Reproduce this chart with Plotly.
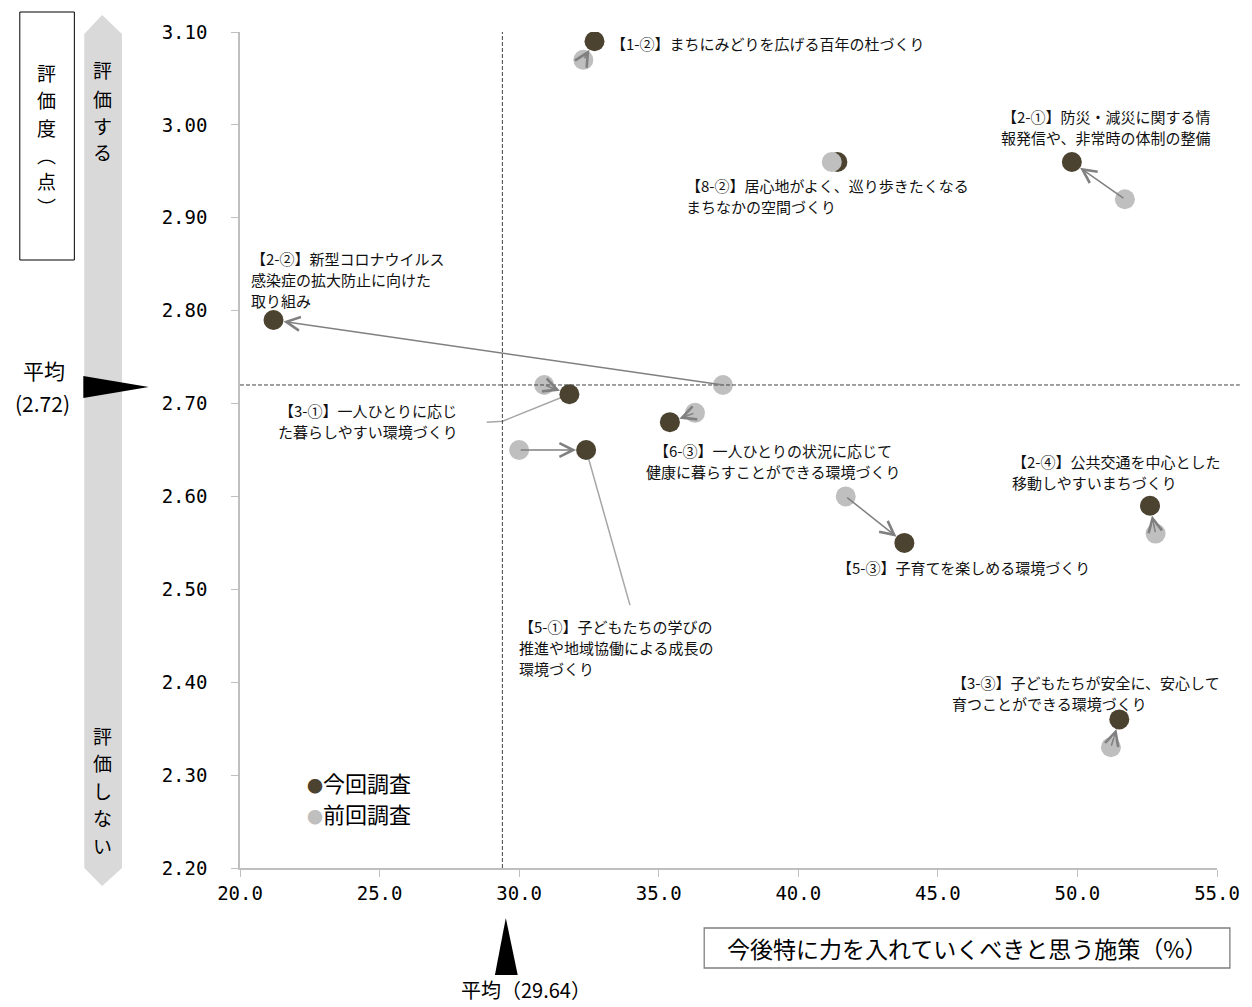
import plotly.graph_objects as go

# 施策ごとの値（今回調査・前回調査）
labels = [
    "【1-②】まちにみどりを広げる百年の杜づくり",
    "【2-①】防災・減災に関する情<br>報発信や、非常時の体制の整備",
    "【8-②】居心地がよく、巡り歩きたくなる<br>まちなかの空間づくり",
    "【2-②】新型コロナウイルス<br>感染症の拡大防止に向けた<br>取り組み",
    "【3-①】一人ひとりに応じ<br>た暮らしやすい環境づくり",
    "【6-③】一人ひとりの状況に応じて<br>健康に暮らすことができる環境づくり",
    "【5-①】子どもたちの学びの<br>推進や地域協働による成長の<br>環境づくり",
    "【5-③】子育てを楽しめる環境づくり",
    "【2-④】公共交通を中心とした<br>移動しやすいまちづくり",
    "【3-③】子どもたちが安全に、安心して<br>育つことができる環境づくり",
]
cur_x = [32.7, 49.8, 41.4, 21.2, 31.8, 35.4, 32.4, 43.8, 52.6, 51.5]
cur_y = [3.09, 2.96, 2.96, 2.79, 2.71, 2.68, 2.65, 2.55, 2.59, 2.36]
prev_x = [32.3, 51.7, 41.2, 37.3, 30.9, 36.3, 30.0, 41.7, 52.8, 51.2]
prev_y = [3.07, 2.92, 2.96, 2.72, 2.72, 2.69, 2.65, 2.60, 2.56, 2.33]

avg_x = 29.64
avg_y = 2.72
avg_x_drawn = 29.4   # 元図の破線はこの位置に引かれている

x_ticks = [20, 25, 30, 35, 40, 45, 50, 55]
y_ticks = [2.2, 2.3, 2.4, 2.5, 2.6, 2.7, 2.8, 2.9, 3.0, 3.1]

# ラベルの置き場所 (x, y, xanchor)
label_pos = [
    (33.22, 3.088, "left"),
    (51.04, 2.998, "center"),
    (35.92, 2.923, "left"),
    (20.33, 2.834, "left"),
    (24.60, 2.681, "center"),
    (39.08, 2.638, "center"),
    (29.93, 2.437, "left"),
    (45.92, 2.523, "center"),
    (47.59, 2.626, "left"),
    (45.42, 2.388, "left"),
]
LINE_H = 21

FONT = "Noto Sans CJK JP"
MONO = "DejaVu Sans Mono"
CUR = "#4b4230"
PREV = "#bfbfbf"

W, H = 1252, 1007
L, R, T, B = 240, 27, 32, 139


def px(x):
    return (x - L) / (W - L - R)


def py(y):
    return (H - B - y) / (H - T - B)


def text_at(t, x, y, size, family=FONT, xanchor="center"):
    fig.add_annotation(x=px(x), y=py(y), xref="paper", yref="paper", text=t,
                       showarrow=False, xanchor=xanchor, yanchor="middle",
                       font=dict(family=family, size=size, color="black"))


fig = go.Figure()

# 引き出し線
fig.add_trace(go.Scatter(x=[28.84, 29.41, cur_x[4]], y=[2.680, 2.681, cur_y[4]],
                         mode="lines", line=dict(color="#a6a6a6", width=1.5),
                         hoverinfo="skip"))
fig.add_trace(go.Scatter(x=[cur_x[6], 33.97], y=[cur_y[6], 2.483],
                         mode="lines", line=dict(color="#a6a6a6", width=1.5),
                         hoverinfo="skip"))

fig.add_trace(go.Scatter(x=cur_x, y=cur_y, mode="markers", name="今回調査",
                         marker=dict(color=CUR, size=20)))
fig.add_trace(go.Scatter(x=prev_x, y=prev_y, mode="markers", name="前回調査",
                         marker=dict(color=PREV, size=20)))

# 前回→今回の矢印
for i in range(len(labels)):
    fig.add_annotation(x=cur_x[i], y=cur_y[i], ax=prev_x[i], ay=prev_y[i],
                       xref="x", yref="y", axref="x", ayref="y", text="",
                       showarrow=True, arrowhead=5, arrowsize=1.8, arrowwidth=1.5,
                       arrowcolor="#808080", standoff=10)

# ラベル（1行ずつ置いて行間を元図に合わせる）
for t, (lx, ly, xa) in zip(labels, label_pos):
    lines = t.split("<br>")
    n = len(lines)
    for k, line in enumerate(lines):
        fig.add_annotation(x=lx, y=ly, xref="x", yref="y", text=line,
                           showarrow=False, xanchor=xa, yanchor="middle",
                           yshift=((n - 1) / 2 - k) * LINE_H,
                           font=dict(family=FONT, size=15, color="#111"))

# 平均線
fig.add_shape(type="line", xref="x", yref="paper", x0=avg_x_drawn, x1=avg_x_drawn,
              y0=0, y1=1, line=dict(color="#444", width=1, dash="4px,2px"))
fig.add_shape(type="line", xref="paper", yref="y", x0=0, x1=px(1248),
              y0=avg_y, y1=avg_y, line=dict(color="#444", width=1, dash="4px,2px"))

# 左側・下側の装飾
fig.add_shape(type="path", xref="paper", yref="paper", line=dict(width=0),
              fillcolor="#d9d9d9", layer="below",
              path=f"M{px(83)},{py(34)} L{px(101)},{py(15)} L{px(121)},{py(34)} "
                   f"L{px(121)},{py(868)} L{px(101)},{py(886)} L{px(83)},{py(868)} Z")
fig.add_shape(type="rect", xref="paper", yref="paper", x0=px(18), x1=px(73),
              y0=py(260), y1=py(12), line=dict(color="black", width=1))
fig.add_shape(type="path", xref="paper", yref="paper", line=dict(width=0),
              fillcolor="black",
              path=f"M{px(82)},{py(376)} L{px(148)},{py(387)} L{px(82)},{py(398)} Z")
fig.add_shape(type="path", xref="paper", yref="paper", line=dict(width=0),
              fillcolor="black",
              path=f"M{px(497)},{py(975)} L{px(508)},{py(918)} L{px(520)},{py(975)} Z")
fig.add_shape(type="rect", xref="paper", yref="paper", x0=px(708), x1=px(1238),
              y0=py(968), y1=py(928), line=dict(color="#7f7f7f", width=1.3))

# 縦書き（1文字ずつ）
for ch, y in zip("評価度︵点︶", [73, 100, 127, 154, 180, 206]):
    text_at(ch, 45, y, 19)
for ch, y in zip("評価する", [70, 98, 125, 152]):
    text_at(ch, 101, y, 19)
for ch, y in zip("評価しない", [735, 762, 790, 817, 845]):
    text_at(ch, 101, y, 19)

text_at("平均", 42, 370, 21)
text_at(f"({avg_y:.2f})", 41, 403, 21)
text_at(f"平均（{avg_x:.2f}）", 528, 990, 20)
text_at("今後特に力を入れていくべきと思う施策（%）", 973, 948, 23)

# 凡例
for t, c, y in [("今回調査", CUR, 782), ("前回調査", PREV, 813)]:
    fig.add_annotation(x=px(306), y=py(y), xref="paper", yref="paper",
                       text=f"<span style='color:{c};font-size:16px'>●</span>{t}",
                       showarrow=False, xanchor="left", yanchor="middle",
                       font=dict(family=FONT, size=22, color="black"))

fig.update_xaxes(range=[20, 55], tickvals=x_ticks, tickformat=".1f",
                 showgrid=False, zeroline=False, showline=True, linecolor="#bfbfbf",
                 linewidth=1.5, ticks="outside", ticklen=7, tickcolor="#bfbfbf",
                 tickfont=dict(family=MONO, size=19, color="black"))
fig.update_yaxes(range=[2.2, 3.1], tickvals=y_ticks, tickformat=".2f",
                 showgrid=False, zeroline=False, showline=True, linecolor="#bfbfbf",
                 linewidth=1.5, ticks="outside", ticklen=7, tickcolor="#bfbfbf",
                 ticklabelstandoff=20,
                 tickfont=dict(family=MONO, size=19, color="black"))

fig.update_layout(width=W, height=H, margin=dict(l=L, r=R, t=T, b=B),
                  showlegend=False, plot_bgcolor="white", paper_bgcolor="white",
                  font=dict(family=FONT))

fig.write_html("out.html", config={"displayModeBar": False},
               post_script="document.body.style.margin='0';document.body.style.overflow='hidden';")
